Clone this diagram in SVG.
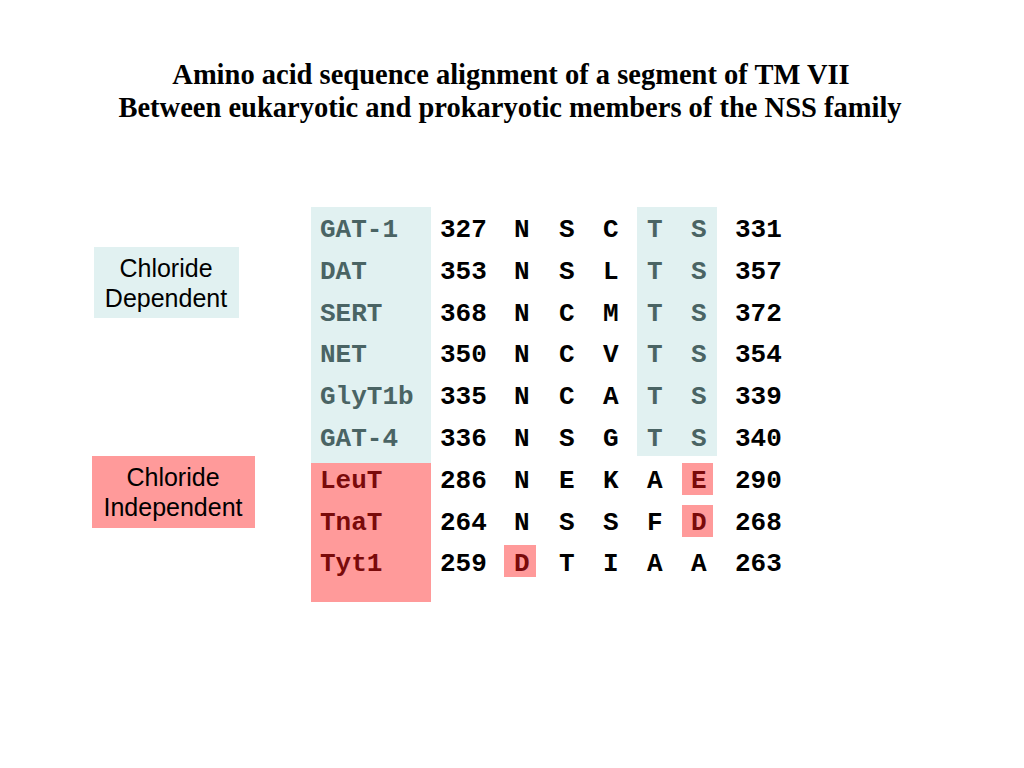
<svg xmlns="http://www.w3.org/2000/svg" width="1024" height="768" viewBox="0 0 1024 768">
<style>
.title{font-family:"Liberation Serif","Times New Roman",serif;font-weight:bold;font-size:28.5px;fill:#000;text-anchor:middle}
.lbl{font-family:"Liberation Sans",Arial,sans-serif;font-size:25px;fill:#000;text-anchor:middle}
.seq{font-family:"Liberation Mono","Courier New",monospace;font-weight:bold;font-size:26px;fill:#000}
.blue{fill:#e1f1f1}
.red{fill:#ff9a9a}
.bt{fill:#4a6464}
.rt{fill:#7a0a0a}
</style>
<rect width="1024" height="768" fill="#fff"/>
<g id="title">
<text class="title" x="511" y="84">Amino acid sequence alignment of a segment of TM VII</text>
<text class="title" x="510" y="117">Between eukaryotic and prokaryotic members of the NSS family</text>
</g>
<g id="chloride-dependent">
<rect class="blue" x="94" y="247" width="145" height="71"/>
<text class="lbl" x="166" y="277">Chloride</text>
<text class="lbl" x="166" y="307">Dependent</text>
</g>
<g id="chloride-independent">
<rect class="red" x="92" y="456" width="163" height="72"/>
<text class="lbl" x="173" y="486">Chloride</text>
<text class="lbl" x="173" y="516">Independent</text>
</g>
<g id="highlights">
<rect class="blue" x="311" y="207" width="120" height="256"/>
<rect class="red" x="311" y="463" width="120" height="139"/>
<rect class="blue" x="637" y="207" width="80" height="249"/>
<rect class="red" x="682" y="463" width="31" height="32"/>
<rect class="red" x="682" y="505" width="31" height="32"/>
<rect class="red" x="504" y="545" width="32" height="32"/>
</g>
<g id="alignment" class="seq">
<text x="320" y="237"><tspan class="bt">GAT-1</tspan><tspan x="440">327</tspan><tspan x="514">N</tspan><tspan x="559">S</tspan><tspan x="603">C</tspan><tspan x="647" class="bt">T</tspan><tspan x="691" class="bt">S</tspan><tspan x="735">331</tspan></text>
<text x="320" y="279"><tspan class="bt">DAT</tspan><tspan x="440">353</tspan><tspan x="514">N</tspan><tspan x="559">S</tspan><tspan x="603">L</tspan><tspan x="647" class="bt">T</tspan><tspan x="691" class="bt">S</tspan><tspan x="735">357</tspan></text>
<text x="320" y="321"><tspan class="bt">SERT</tspan><tspan x="440">368</tspan><tspan x="514">N</tspan><tspan x="559">C</tspan><tspan x="603">M</tspan><tspan x="647" class="bt">T</tspan><tspan x="691" class="bt">S</tspan><tspan x="735">372</tspan></text>
<text x="320" y="362"><tspan class="bt">NET</tspan><tspan x="440">350</tspan><tspan x="514">N</tspan><tspan x="559">C</tspan><tspan x="603">V</tspan><tspan x="647" class="bt">T</tspan><tspan x="691" class="bt">S</tspan><tspan x="735">354</tspan></text>
<text x="320" y="404"><tspan class="bt">GlyT1b</tspan><tspan x="440">335</tspan><tspan x="514">N</tspan><tspan x="559">C</tspan><tspan x="603">A</tspan><tspan x="647" class="bt">T</tspan><tspan x="691" class="bt">S</tspan><tspan x="735">339</tspan></text>
<text x="320" y="446"><tspan class="bt">GAT-4</tspan><tspan x="440">336</tspan><tspan x="514">N</tspan><tspan x="559">S</tspan><tspan x="603">G</tspan><tspan x="647" class="bt">T</tspan><tspan x="691" class="bt">S</tspan><tspan x="735">340</tspan></text>
<text x="320" y="488"><tspan class="rt">LeuT</tspan><tspan x="440">286</tspan><tspan x="514">N</tspan><tspan x="559">E</tspan><tspan x="603">K</tspan><tspan x="647">A</tspan><tspan x="691" class="rt">E</tspan><tspan x="735">290</tspan></text>
<text x="320" y="530"><tspan class="rt">TnaT</tspan><tspan x="440">264</tspan><tspan x="514">N</tspan><tspan x="559">S</tspan><tspan x="603">S</tspan><tspan x="647">F</tspan><tspan x="691" class="rt">D</tspan><tspan x="735">268</tspan></text>
<text x="320" y="571"><tspan class="rt">Tyt1</tspan><tspan x="440">259</tspan><tspan x="514" class="rt">D</tspan><tspan x="559">T</tspan><tspan x="603">I</tspan><tspan x="647">A</tspan><tspan x="691">A</tspan><tspan x="735">263</tspan></text>
</g>
</svg>
